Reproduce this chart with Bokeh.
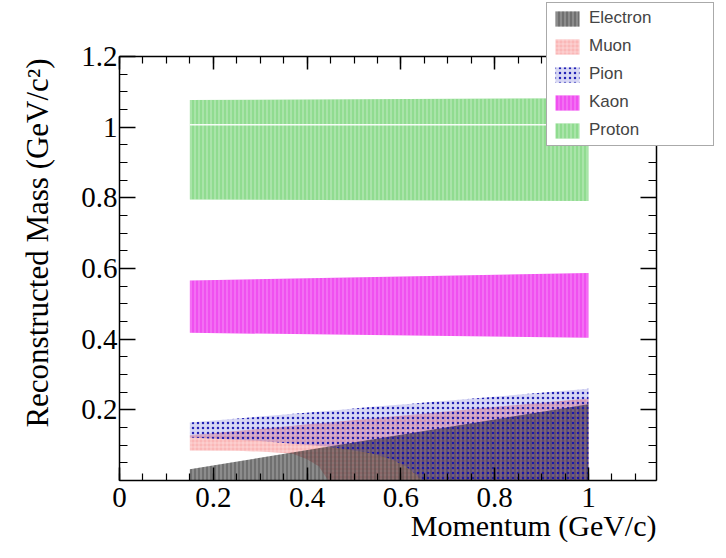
from math import pi
from bokeh.plotting import figure
from bokeh.models import (Range1d, LinearAxis, FixedTicker, Legend, LegendItem, Label)
from bokeh.embed import file_html
from bokeh.resources import INLINE

# ---------------- data ----------------
electron_x = [0.15, 1.0]
electron_lo = [0.0, 0.0]
electron_hi = [0.032, 0.216]

muon_x = [0.15, 0.25, 0.30, 0.35, 0.371, 0.40, 0.425, 0.445, 0.60, 0.80, 1.0]
muon_lo = [0.085, 0.084, 0.082, 0.078, 0.075, 0.060, 0.040, 0.0, 0.0, 0.0, 0.0]
muon_hi = [0.128, 0.140, 0.146, 0.152, 0.155, 0.159, 0.162, 0.164, 0.183, 0.208, 0.232]

pion_x = [0.15, 0.30, 0.443, 0.535, 0.58, 0.61, 0.63, 0.645, 0.80, 1.0]
pion_lo = [0.122, 0.112, 0.096, 0.078, 0.060, 0.040, 0.020, 0.0, 0.0, 0.0]
pion_hi = [0.164, 0.181, 0.197, 0.208, 0.213, 0.216, 0.218, 0.220, 0.237, 0.260]

kaon_x = [0.15, 1.0]
kaon_lo = [0.418, 0.404]
kaon_hi = [0.566, 0.587]

proton_x = [0.15, 1.0]
proton_lo = [0.795, 0.791]
proton_hi = [1.077, 1.082]
proton_mid = [1.007, 1.007]

x_ticks = [0, 0.2, 0.4, 0.6, 0.8, 1.0]
x_tick_labels = ["0", "0.2", "0.4", "0.6", "0.8", "1"]
y_ticks = [0.2, 0.4, 0.6, 0.8, 1.0, 1.2]
y_tick_labels = ["0.2", "0.4", "0.6", "0.8", "1", "1.2"]
x_axis_max = 1.145
y_axis_max = 1.2

x_title = "Momentum (GeV/c)"
y_title = "Reconstructed Mass (GeV/c\u00b2)"

# ---------------- geometry ----------------
W, H = 716, 542
X0, Y0 = 119, 480          # canvas pixel of data (0, 0)
KX, KY = 469.0, 353.33     # pixels per data unit


def dx(px):
    return (px - X0) / KX


def dy(py):
    return (Y0 - py) / KY


p = figure(width=W, height=H, output_backend="svg", toolbar_location=None,
           x_range=Range1d(dx(0), dx(W)), y_range=Range1d(dy(H), dy(0)),
           min_border=0, x_axis_type=None, y_axis_type=None)
p.grid.visible = False
p.background_fill_color = "white"
p.border_fill_color = "white"
p.outline_line_color = None

serif = "Liberation Serif"
x_minor = [round(0.05 * i, 2) for i in range(0, 23)]
y_minor = [round(0.05 * i, 2) for i in range(0, 25)]


def make_axis(ticks, minor, labels, major_len, minor_len, loc, bounds):
    ax = LinearAxis(fixed_location=loc, bounds=bounds)
    ax.ticker = FixedTicker(ticks=ticks, minor_ticks=minor)
    ax.axis_line_color = "black"
    ax.axis_line_width = 1.5
    ax.major_tick_line_color = "black"
    ax.major_tick_line_width = 1.5
    ax.minor_tick_line_color = "black"
    ax.minor_tick_line_width = 1.2
    ax.major_tick_in = major_len
    ax.major_tick_out = 0
    ax.minor_tick_in = minor_len
    ax.minor_tick_out = 0
    ax.major_label_text_font = serif
    ax.major_label_text_font_size = "29px"
    ax.major_label_text_color = "black"
    ax.major_label_overrides = {t: l for t, l in zip(ticks, labels)}
    return ax


bottom_ax = make_axis(x_ticks, x_minor, x_tick_labels, 13, 7, 0, (0, x_axis_max))
bottom_ax.major_label_standoff = 7
p.add_layout(bottom_ax, "below")
left_ax = make_axis(y_ticks, y_minor, y_tick_labels, 16, 8, 0, (0, y_axis_max))
left_ax.major_label_standoff = 2
p.add_layout(left_ax, "left")
top_ax = make_axis(x_ticks, x_minor, [""] * len(x_ticks), 13, 7, y_axis_max, (0, x_axis_max))
top_ax.major_label_text_color = None
top_ax.major_label_standoff = 0
p.add_layout(top_ax, "above")
right_ax = make_axis(y_ticks, y_minor, [""] * len(y_ticks), 16, 8, x_axis_max, (0, y_axis_max))
right_ax.major_label_text_color = None
right_ax.major_label_standoff = 0
p.add_layout(right_ax, "right")

# ---------------- bands ----------------
r_proton = p.varea(x=proton_x, y1=proton_lo, y2=proton_hi,
                   fill_color="#90dc90", fill_alpha=1.0,
                   hatch_pattern="|", hatch_color="white", hatch_alpha=0.45,
                   hatch_scale=4, hatch_weight=1)
p.line(proton_x, proton_mid, line_color="white", line_width=1.5, line_alpha=0.9)
r_kaon = p.varea(x=kaon_x, y1=kaon_lo, y2=kaon_hi,
                 fill_color="#f050f0", fill_alpha=1.0,
                 hatch_pattern="|", hatch_color="white", hatch_alpha=0.35,
                 hatch_scale=4, hatch_weight=1)
r_muon = p.varea(x=muon_x, y1=muon_lo, y2=muon_hi,
                 fill_color="#f89090", fill_alpha=0.65,
                 hatch_pattern="+", hatch_color="white", hatch_alpha=0.35,
                 hatch_scale=4, hatch_weight=1)
r_electron = p.varea(x=electron_x, y1=electron_lo, y2=electron_hi,
                     fill_color="#1a1a1a", fill_alpha=0.5,
                     hatch_pattern="|", hatch_color="black", hatch_alpha=0.4,
                     hatch_scale=4, hatch_weight=1)
r_pion = p.varea(x=pion_x, y1=pion_lo, y2=pion_hi,
                 fill_color="#2020c0", fill_alpha=0.18,
                 hatch_pattern=".", hatch_color="#1010b0", hatch_alpha=0.9,
                 hatch_scale=5, hatch_weight=1)

# ---------------- legend ----------------
LEG_LEFT, LEG_BOTTOM = 546, 146
legend = Legend(items=[
    LegendItem(label="Electron", renderers=[r_electron]),
    LegendItem(label="Muon", renderers=[r_muon]),
    LegendItem(label="Pion", renderers=[r_pion]),
    LegendItem(label="Kaon", renderers=[r_kaon]),
    LegendItem(label="Proton", renderers=[r_proton]),
], location=(LEG_LEFT, H - LEG_BOTTOM), padding=5, spacing=8, margin=0,
    glyph_width=30, glyph_height=19, label_height=19, label_width=119,
    label_standoff=7, label_text_font="Liberation Sans", label_text_font_size="17px",
    border_line_color="#555555", border_line_width=1.2,
    background_fill_color="white", background_fill_alpha=1.0)
p.add_layout(legend, "center")

# ---------------- axis titles (right/top aligned, ROOT style) ----------------
p.add_layout(Label(x=x_axis_max, y=dy(541), text=x_title, text_align="right",
                   text_baseline="bottom", text_font=serif,
                   text_font_size="30px", text_color="black"))
p.add_layout(Label(x=dx(37), y=dy(58), text=y_title, angle=pi / 2,
                   text_align="right", text_baseline="alphabetic",
                   text_font=serif, text_font_size="31px", text_color="black"))

open("out.html", "w").write(file_html(p, INLINE))
